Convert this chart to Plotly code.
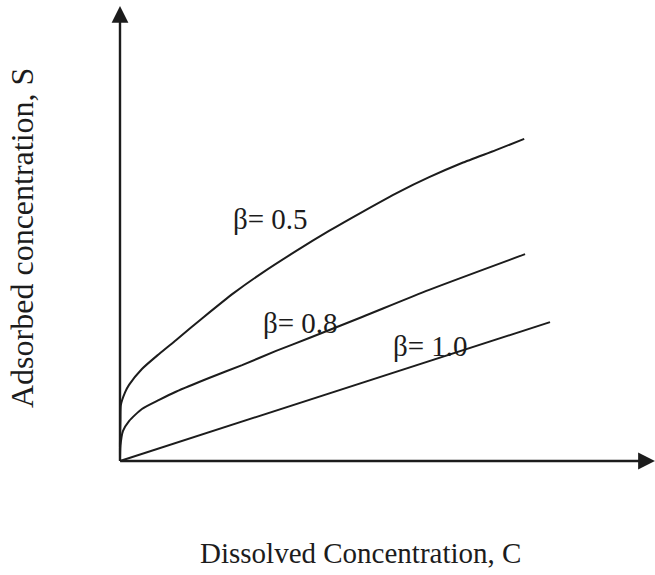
import plotly.graph_objects as go

# Freundlich-type sorption isotherms, S versus C, for three exponents
c_b05 = [0.00, 0.00, 0.01, 0.02, 0.12, 0.21, 0.51, 0.91, 1.30, 1.95, 2.65, 3.30,
         4.09, 4.86, 5.63, 6.49, 7.19, 7.95, 8.74, 9.40]
s_b05 = [0.00, 0.49, 0.95, 1.30, 1.60, 1.77, 2.14, 2.49, 2.81, 3.35, 3.91, 4.37,
         4.88, 5.35, 5.79, 6.26, 6.60, 6.93, 7.23, 7.49]

c_b08 = [0.00, 0.01, 0.07, 0.21, 0.51, 0.91, 1.30, 2.07, 2.84, 3.63, 4.40, 5.63,
         7.19, 9.42]
s_b08 = [0.00, 0.35, 0.70, 0.93, 1.21, 1.42, 1.61, 1.93, 2.23, 2.56, 2.86, 3.35,
         3.98, 4.81]

c_b10 = [0.00, 10.00]
s_b10 = [0.00, 3.23]

curve_labels = ["β= 0.5", "β= 0.8", "β= 1.0"]
label_c = [3.51, 4.19, 7.21]
label_s = [5.63, 3.21, 2.67]

x_title = "Dissolved Concentration, C"
y_title = "Adsorbed concentration, S"

ink = "#1c1c1c"
serif = "Liberation Serif, Times New Roman, serif"

fig = go.Figure()
for cx, sy in [(c_b05, s_b05), (c_b08, s_b08), (c_b10, s_b10)]:
    fig.add_trace(go.Scatter(
        x=cx, y=sy, mode="lines",
        line=dict(color=ink, width=2, shape="spline", smoothing=0.6),
        hoverinfo="skip", showlegend=False,
    ))

# axes drawn as arrows from the origin
fig.add_annotation(x=0, y=10.58, ax=0, ay=-0.03, xref="x", yref="y",
                   axref="x", ayref="y", showarrow=True, arrowhead=2,
                   arrowsize=1.4, arrowwidth=2.4, arrowcolor=ink, text="")
fig.add_annotation(x=12.44, y=0, ax=-0.03, ay=0, xref="x", yref="y",
                   axref="x", ayref="y", showarrow=True, arrowhead=2,
                   arrowsize=1.4, arrowwidth=2.4, arrowcolor=ink, text="")

for t, cx, sy in zip(curve_labels, label_c, label_s):
    fig.add_annotation(x=cx, y=sy, text=t, showarrow=False,
                       font=dict(family=serif, size=29, color=ink))

# axis titles placed in paper coordinates, outside the plotting area
fig.add_annotation(x=0.4685, y=-0.187, xref="paper", yref="paper", text=x_title,
                   showarrow=False, font=dict(family=serif, size=29, color=ink))
fig.add_annotation(x=-0.1766, y=0.5052, xref="paper", yref="paper", text=y_title,
                   showarrow=False, textangle=-90,
                   font=dict(family=serif, size=32, color=ink))

fig.update_xaxes(range=[-0.4651, 12.4419], visible=False, fixedrange=True)
fig.update_yaxes(range=[-0.4651, 10.7209], visible=False, fixedrange=True)
fig.update_layout(
    width=655, height=575,
    margin=dict(l=100, r=0, t=0, b=94),
    paper_bgcolor="white", plot_bgcolor="white",
)
fig.write_html("out.html")
